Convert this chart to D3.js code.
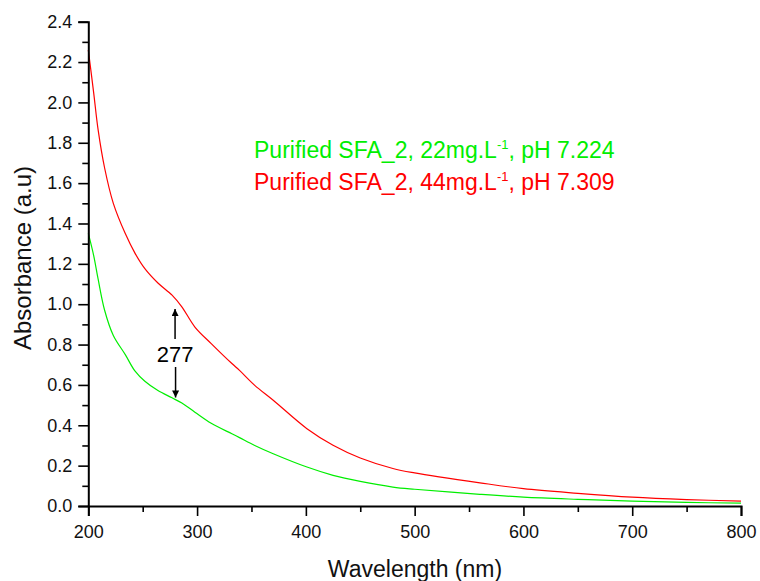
<!DOCTYPE html>
<html>
<head>
<meta charset="utf-8">
<script src="https://cdn.jsdelivr.net/npm/d3@7"></script>
<style>
  html, body { margin: 0; padding: 0; background: #fff; }
  svg { display: block; font-family: "Liberation Sans", Arial, sans-serif; }
</style>
</head>
<body>
<svg id="chart" width="760" height="581"></svg>
<script>
// ---- data ----
const wavelengths = [200,205,209,215,223,234,243,252,264,277,286,298,313,332,339,353,370,401,425,450,480,500,560,600,650,700,750,800];
const absorbance22 = [1.351,1.24,1.125,0.97,0.845,0.750,0.668,0.618,0.572,0.536,0.510,0.465,0.410,0.358,0.339,0.300,0.259,0.193,0.152,0.122,0.094,0.083,0.058,0.044,0.033,0.024,0.018,0.014];
const absorbance44 = [2.26,2.045,1.865,1.675,1.50,1.35,1.252,1.176,1.105,1.045,0.987,0.887,0.805,0.706,0.672,0.598,0.524,0.383,0.301,0.238,0.186,0.164,0.115,0.086,0.063,0.044,0.032,0.024];
const seriesNames = ["Purified SFA_2, 22mg.L", "Purified SFA_2, 44mg.L"];
const seriesSuffix = [", pH 7.224", ", pH 7.309"];
const seriesColors = ["#00ee00", "#ff0000"];
const xTicks = [200,300,400,500,600,700,800];
const xMinorTicks = [250,350,450,550,650,750];
const yTicks = [0,0.2,0.4,0.6,0.8,1.0,1.2,1.4,1.6,1.8,2.0,2.2,2.4];
const yMinorTicks = [0.1,0.3,0.5,0.7,0.9,1.1,1.3,1.5,1.7,1.9,2.1,2.3];
const peakLabel = "277";
const peakWavelength = 277;
const xTitle = "Wavelength (nm)";
const yTitle = "Absorbance (a.u)";

// ---- chart ----
const svg = d3.select("#chart");
const x = d3.scaleLinear().domain([200, 800]).range([88.3, 741]);
const y = d3.scaleLinear().domain([0, 2.4]).range([506, 21.7]);

const series = [absorbance22, absorbance44];
const line = d3.line().x(d => x(d[0])).y(d => y(d[1])).curve(d3.curveCatmullRom.alpha(0.5));

series.forEach((vals, i) => {
  svg.append("path")
    .datum(wavelengths.map((w, j) => [w, vals[j]]))
    .attr("fill", "none")
    .attr("stroke", seriesColors[i])
    .attr("stroke-width", 1.2)
    .attr("d", line);
});

// axes
const fontTick = 18;
const gx = svg.append("g").attr("transform", `translate(0,${y(0)})`);
gx.call(d3.axisBottom(x).tickValues(xTicks).tickSize(10).tickPadding(9).tickFormat(d3.format("d")));
const gxm = svg.append("g").attr("transform", `translate(0,${y(0)})`);
gxm.call(d3.axisBottom(x).tickValues(xMinorTicks).tickSize(6).tickFormat(""));
gxm.select(".domain").remove();

const gy = svg.append("g").attr("transform", `translate(${x(200)},0)`);
gy.call(d3.axisLeft(y).tickValues(yTicks).tickSize(10).tickPadding(6).tickFormat(d3.format(".1f")));
const gym = svg.append("g").attr("transform", `translate(${x(200)},0)`);
gym.call(d3.axisLeft(y).tickValues(yMinorTicks).tickSize(6).tickFormat(""));
gym.select(".domain").remove();

svg.selectAll(".domain").attr("stroke", "#000").attr("stroke-width", 2);
svg.selectAll(".tick line").attr("stroke", "#000").attr("stroke-width", 1.6);
svg.selectAll(".tick text")
  .attr("fill", "#111")
  .style("font-family", '"Liberation Sans", Arial, sans-serif')
  .style("font-size", fontTick + "px");

// axis titles
svg.append("text")
  .attr("x", 415).attr("y", 577)
  .attr("text-anchor", "middle")
  .style("font-size", "23px")
  .attr("fill", "#111")
  .text(xTitle);

svg.append("text")
  .attr("transform", "translate(31,258) rotate(-90)")
  .attr("text-anchor", "middle")
  .style("font-size", "24px")
  .attr("fill", "#111")
  .text(yTitle);

// legend
const legendY = [157.7, 190];
series.forEach((_, i) => {
  const t = svg.append("text")
    .attr("x", 254).attr("y", legendY[i])
    .attr("fill", seriesColors[i])
    .style("font-size", "23px");
  t.append("tspan").text(seriesNames[i]);
  t.append("tspan").attr("dy", -9).style("font-size", "13px").text("-1");
  t.append("tspan").attr("dy", 9).text(seriesSuffix[i]);
});

// peak annotation
const defs = svg.append("defs");
defs.append("marker")
  .attr("id", "ah").attr("viewBox", "0 0 10 10")
  .attr("refX", 10).attr("refY", 5)
  .attr("markerWidth", 9).attr("markerHeight", 7)
  .attr("markerUnits", "userSpaceOnUse")
  .attr("orient", "auto")
  .append("path").attr("d", "M0,0 L10,5 L0,10 Z").attr("fill", "#000");

const ax = x(peakWavelength) + 3;
svg.append("line")
  .attr("x1", ax).attr("x2", ax).attr("y1", 339).attr("y2", 309)
  .attr("stroke", "#000").attr("stroke-width", 1.5).attr("marker-end", "url(#ah)");
svg.append("line")
  .attr("x1", ax + 0.5).attr("x2", ax + 0.5).attr("y1", 367).attr("y2", 397.5)
  .attr("stroke", "#000").attr("stroke-width", 1.5).attr("marker-end", "url(#ah)");
svg.append("text")
  .attr("x", ax).attr("y", 361.5)
  .attr("text-anchor", "middle")
  .style("font-size", "22px")
  .attr("fill", "#000")
  .text(peakLabel);
</script>
</body>
</html>
